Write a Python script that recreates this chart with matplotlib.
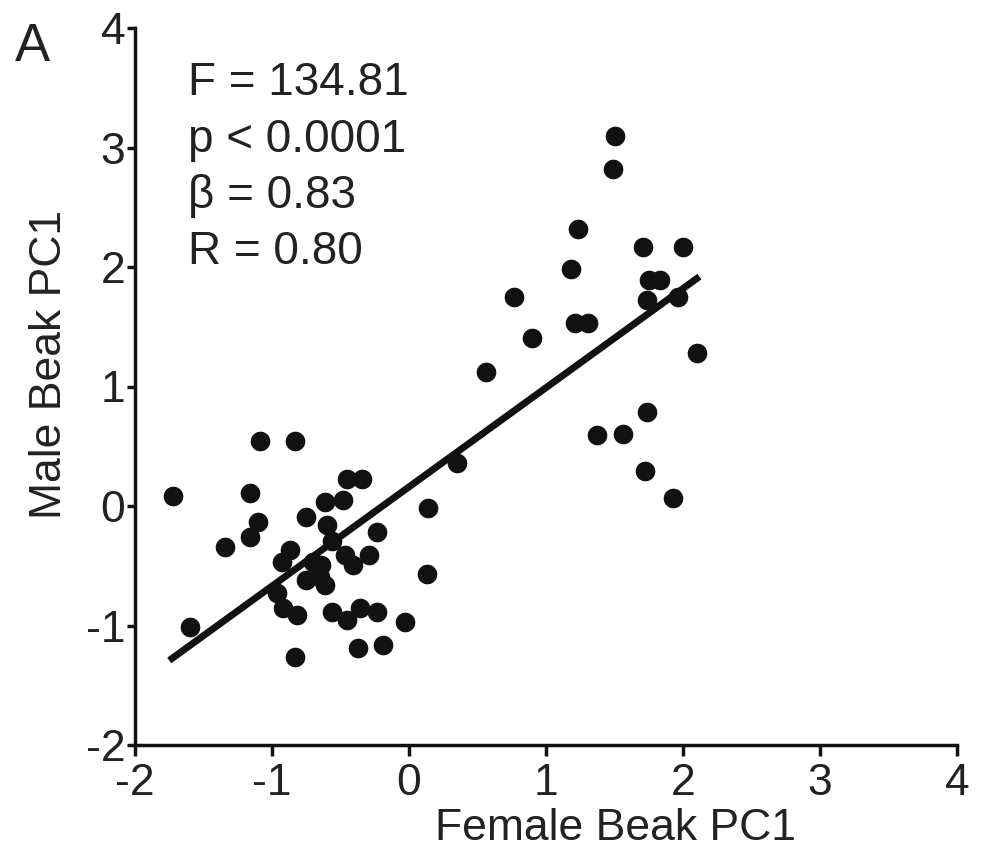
import matplotlib
matplotlib.use("Agg")
import matplotlib.pyplot as plt
import numpy as np

plt.rcParams['font.family'] = ['Liberation Sans', 'DejaVu Sans']

# Beak PC1 scores (female, male) per pair
female_pc1 = [
    -1.72, -1.60, -1.34, -1.16, -1.16, -1.10, -1.09, -0.83,
    -0.45, -0.34, -0.48, -0.61, -0.75, -0.60, 0.14, -0.23,
    -0.87, -0.93, -0.29, -0.41, -0.65, -0.75, 0.13, -0.92,
    -0.82, -0.56, -0.45, -0.36, -0.23, -0.03, -0.83, -0.37,
    -0.19, -0.70, -0.64, -0.61, -0.96, -0.56, -0.47, 0.35,
    1.50, 1.49, 1.23, 1.18, 0.77, 1.21, 1.31, 0.90,
    0.56, 2.00, 1.71, 1.75, 1.83, 1.74, 1.96, 2.10,
    1.74, 1.37, 1.56, 1.72, 1.93,
]
male_pc1 = [
    0.08, -1.01, -0.34, 0.11, -0.26, -0.13, 0.54, 0.54,
    0.23, 0.23, 0.05, 0.03, -0.09, -0.16, -0.02, -0.22,
    -0.37, -0.47, -0.41, -0.49, -0.59, -0.62, -0.57, -0.85,
    -0.91, -0.89, -0.95, -0.85, -0.89, -0.97, -1.26, -1.19,
    -1.16, -0.47, -0.49, -0.66, -0.73, -0.29, -0.41, 0.36,
    3.10, 2.82, 2.32, 1.98, 1.75, 1.53, 1.53, 1.41,
    1.12, 2.17, 2.17, 1.89, 1.89, 1.72, 1.75, 1.28,
    0.79, 0.59, 0.60, 0.29, 0.07,
]

# Regression summary
slope = 0.83
intercept = 0.16
fit_range = [-1.75, 2.12]
stats_lines = ["F = 134.81", "p < 0.0001", "\u03b2 = 0.83", "R = 0.80"]

ticks = [-2, -1, 0, 1, 2, 3, 4]

fig = plt.figure(figsize=(9.84, 8.59), dpi=100)
ax = fig.add_axes([135 / 984, 1 - 745 / 859, 822 / 984, 717 / 859])

ax.scatter(female_pc1, male_pc1, s=200, color='#111111', linewidths=0, zorder=3)
xf = np.array(fit_range)
ax.plot(xf, intercept + slope * xf, color='#111111', lw=5, solid_capstyle='butt', zorder=4)

ax.set_xlim(-2, 4)
ax.set_ylim(-2, 4)
ax.set_xticks(ticks)
ax.set_yticks(ticks)
ax.set_xticklabels([str(t) for t in ticks])
ax.set_yticklabels([str(t) for t in ticks])

for side in ('top', 'right'):
    ax.spines[side].set_visible(False)
for side in ('left', 'bottom'):
    ax.spines[side].set_linewidth(2.5)
    ax.spines[side].set_color('#111111')

ax.tick_params(axis='both', direction='out', width=2.5, colors='#111111',
               labelsize=32, labelcolor='#222222')
ax.tick_params(axis='x', length=8, pad=5)
ax.tick_params(axis='y', length=6, pad=1)

ax.set_xlabel("Female Beak PC1", fontsize=32, color='#222222')
ax.set_ylabel("Male Beak PC1", fontsize=32, color='#222222')
ax.xaxis.set_label_coords(0.584, -0.088)
ax.yaxis.set_label_coords(-0.079, 0.53)

baselines = [3.44, 2.966, 2.494, 2.021]
for line, yb in zip(stats_lines, baselines):
    ax.text(-1.613, yb, line, fontsize=33, color='#222222', ha='left', va='baseline')

fig.text(15 / 984, 1 - 61 / 859, "A", fontsize=38, color='#222222', ha='left', va='baseline')

fig.savefig("out.png", dpi=100)
